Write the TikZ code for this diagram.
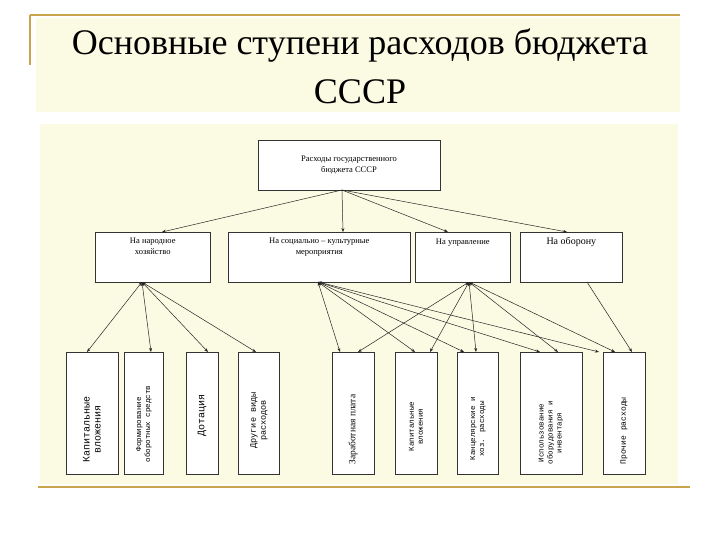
\documentclass[tikz,border=0pt]{standalone}
\usepackage{fontspec}
\setmainfont{Liberation Serif}
\newfontfamily\monof{Liberation Mono}
\usetikzlibrary{arrows.meta}
\definecolor{cream}{HTML}{FBFAE2}
\definecolor{gold}{HTML}{C9A44A}
\begin{document}
\begin{tikzpicture}[x=1pt,y=-1pt,
  box/.style={draw=black!80,line width=0.6pt,fill=white,align=center,font=\fontsize{8.5}{10.5}\selectfont},
  vbox/.style={draw=black!80,line width=0.6pt,fill=white},
  con/.style={draw=black!85,line width=0.5pt,{Stealth[length=4pt,width=3pt]}-{Stealth[length=4pt,width=3pt]}},
  arr/.style={draw=black!85,line width=0.5pt,-{Stealth[length=4pt,width=3pt]}},
  vt/.style={rotate=90,align=center,anchor=west,font=\monof\fontsize{7.5}{9}\selectfont}]
\useasboundingbox (0,0) rectangle (720,540);
\fill[white] (0,0) rectangle (720,540);
\fill[cream] (36,18) rectangle (680,112);
\fill[cream] (40,124) rectangle (678,484);
\draw[gold,line width=1.5pt] (30,15) -- (30,65);
\draw[gold,line width=1.5pt] (30,15) -- (680,15);
\draw[gold,line width=2pt] (38,487) -- (690,487);
\node[font=\fontsize{36}{40}\selectfont] (t1) at (360,46) {Основные ступени расходов бюджета};
\node[font=\fontsize{36}{40}\selectfont] (t2) at (360,92) {СССР};
% top
\node[box,minimum width=182pt,minimum height=50pt] (top) at (349,165) {Расходы государственного\\бюджета СССР};
% middle
\node[box,minimum width=115pt,minimum height=50pt,anchor=north west,text depth=22pt] (m1) at (95,232) {На народное\\хозяйство};
\node[box,minimum width=182pt,minimum height=50pt,anchor=north west,text depth=22pt] (m2) at (228,232) {На социально – культурные\\мероприятия};
\node[box,minimum width=95pt,minimum height=50pt,anchor=north west,text depth=32pt] (m3) at (415,232) {На управление};
\node[box,minimum width=102pt,minimum height=50pt,anchor=north west,text depth=32pt,font=\fontsize{10}{12}\selectfont] (m4) at (520,232) {На оборону};
\coordinate (tb) at (342,190);
\foreach \m/\x in {m1/162,m2/343,m3/448,m4/567} \draw[arr] (tb) -- (\x,232);
% bottom boxes
\foreach \n/\a/\b in {b1/66/118,b2/124/163,b3/186/218,b4/238/279,b5/332/374,b6/395/437,b7/457/498,b8/520/582,b9/603/645}
  \draw[vbox] (\a,352) rectangle (\b,474) node[midway] (\n) {};
\node[vt,font=\monof\fontsize{10}{11}\selectfont] (l1) at (92,466) {Капитальные\\вложения};
\node[vt] (l2) at (144,466) {Формирование\\оборотных средств};
\node[vt,font=\monof\fontsize{10}{11}\selectfont] (l3) at (202,440) {Дотация};
\node[vt,font=\monof\fontsize{8.5}{10}\selectfont] (l4) at (259,452) {Другие виды\\расходов};
\node[vt,font=\fontsize{9.5}{11}\selectfont] (l5) at (353,468) {Заработная плата};
\node[vt] (l6) at (416,455) {Капитальные\\вложения};
\node[vt] (l7) at (478,464) {Канцелярские и\\хоз. расходы};
\node[vt] (l8) at (551,468) {Использование\\оборудования и\\инвентаря};
\node[vt,font=\monof\fontsize{8}{10}\selectfont] (l9) at (624,468) {Прочие расходы};
% connectors
\coordinate (s1) at (142,282);
\coordinate (s2) at (318,282);
\coordinate (s3) at (469,282);
\coordinate (s4) at (587,282);
\foreach \x in {87,151,208,256} \draw[con] (s1) -- (\x,352);
\foreach \x in {340,415,464,540,599} \draw[con] (s2) -- (\x,352);
\foreach \x in {358,430,476,558,615} \draw[con] (s3) -- (\x,352);
\draw[arr] (s4) -- (632,352);
\end{tikzpicture}
\end{document}
